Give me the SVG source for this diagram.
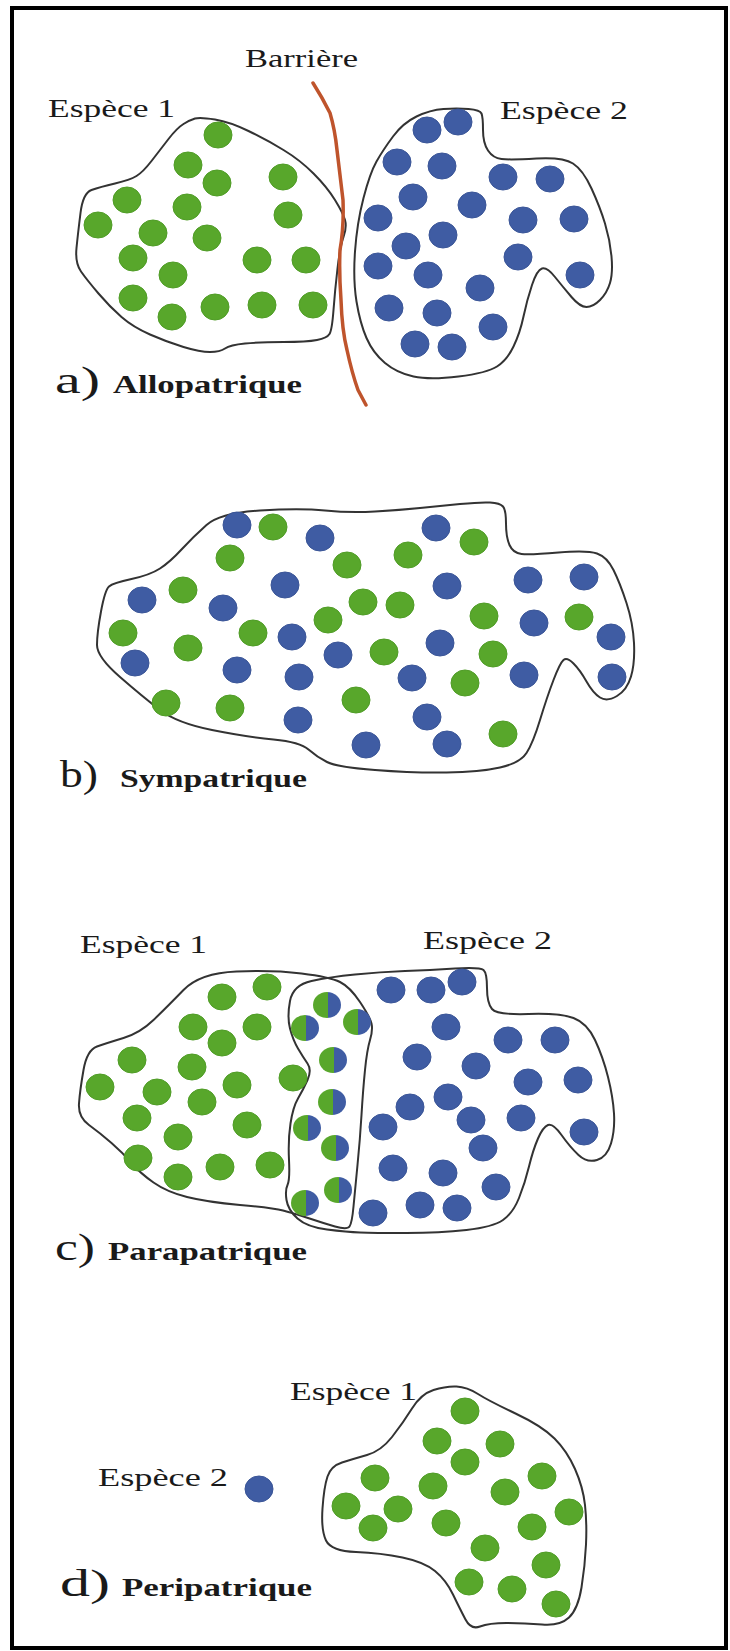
<svg xmlns="http://www.w3.org/2000/svg" xmlns:xlink="http://www.w3.org/1999/xlink" width="730" height="1651" viewBox="0 0 730 1651">
<style>
.ol{fill:none;stroke:#333;stroke-width:2;stroke-linejoin:round;stroke-linecap:round}
.bar{fill:none;stroke:#bf542c;stroke-width:3.5;stroke-linecap:round;stroke-linejoin:round}
.lbl{font-family:"Liberation Serif","Times New Roman",serif;font-size:25px;fill:#1a1a1a}
.let{font-family:"Liberation Serif","Times New Roman",serif;font-size:38px;fill:#1a1a1a}
.ttl{font-family:"Liberation Serif","Times New Roman",serif;font-size:25px;font-weight:bold;fill:#1a1a1a}
</style>
<defs>
<linearGradient id="halfg" x1="0" y1="0" x2="1" y2="0">
<stop offset="0" stop-color="#58a72b"/><stop offset="0.52" stop-color="#58a72b"/><stop offset="0.52" stop-color="#3f5ca3"/><stop offset="1" stop-color="#3f5ca3"/>
</linearGradient>
<ellipse id="g" cx="0" cy="0" rx="14" ry="13" fill="#58a72b" stroke="#4f9c26" stroke-width="1"/>
<ellipse id="b" cx="0" cy="0" rx="14" ry="13" fill="#3f5ca3" stroke="#3a5597" stroke-width="1"/>
<ellipse id="h" cx="0" cy="0" rx="14" ry="13" fill="url(#halfg)"/>
</defs>
<rect width="730" height="1651" fill="#fff"/>
<rect x="12" y="8" width="714" height="1640" fill="none" stroke="#000" stroke-width="4"/>

<g id="panel-a">
<path class="ol" d="M183.5,124 Q190,120 195,118.5 Q200,117 215,119.5 Q230,122 248.5,131 Q267,140 283.5,150 Q300,160 313.5,173.5 Q327,187 335,200 Q343,213 345,220 Q347,227 343.5,237 Q340,247 337.5,268.5 Q335,290 333.5,310 Q332,330 329.5,334 Q327,338 317,340 Q307,342 283.5,342 Q260,342 245,343.5 Q230,345 225,348.5 Q220,352 210,352 Q200,352 183.5,347 Q167,342 150,334.5 Q133,327 121.5,317 Q110,307 98.5,293.5 Q87,280 81,271.5 Q75,263 76.5,248 Q78,233 80.5,213 Q83,193 91.5,190 Q100,187 115,183.5 Q130,180 136.5,176 Q143,172 151.5,161 Q160,150 168.5,139 Q177,128 183.5,124 Z"/>
<path class="ol" d="M443.5,109 Q457,108 468.5,109 Q480,110 481.5,113.5 Q483,117 483,130 Q483,143 488,150.5 Q493,158 501.5,159 Q510,160 536.5,158.5 Q563,157 573,163.5 Q583,170 591.5,188.5 Q600,207 605,223.5 Q610,240 611.5,256.5 Q613,273 610,283 Q607,293 600,300 Q593,307 586.5,307 Q580,307 571.5,297 Q563,287 555,277 Q547,267 542,268.5 Q537,270 532,285 Q527,300 523.5,316.5 Q520,333 513.5,346.5 Q507,360 497,366.5 Q487,373 458.5,376.5 Q430,380 413.5,376.5 Q397,373 385,363 Q373,353 366.5,338 Q360,323 356.5,301.5 Q353,280 355,251.5 Q357,223 363.5,198 Q370,173 376.5,161.5 Q383,150 393,136.5 Q403,123 416.5,116.5 Q430,110 443.5,109 Z"/>
<path class="bar" d="M313,83 Q322,97 330,113 Q335,130 337,150 Q340,175 343,200 Q344,227 340,250 Q339,273 341,300 Q342,330 347,350 Q352,373 358,390 L366,405"/>
<g>
<use xlink:href="#g" x="218" y="135"/><use xlink:href="#g" x="188" y="165"/><use xlink:href="#g" x="217" y="183"/><use xlink:href="#g" x="283" y="177"/><use xlink:href="#g" x="127" y="200"/><use xlink:href="#g" x="187" y="207"/><use xlink:href="#g" x="288" y="215"/><use xlink:href="#g" x="98" y="225"/><use xlink:href="#g" x="153" y="233"/><use xlink:href="#g" x="207" y="238"/><use xlink:href="#g" x="133" y="258"/><use xlink:href="#g" x="257" y="260"/><use xlink:href="#g" x="306" y="260"/><use xlink:href="#g" x="173" y="275"/><use xlink:href="#g" x="133" y="298"/><use xlink:href="#g" x="172" y="317"/><use xlink:href="#g" x="215" y="307"/><use xlink:href="#g" x="262" y="305"/><use xlink:href="#g" x="313" y="305"/>
</g>
<g>
<use xlink:href="#b" x="427" y="130"/><use xlink:href="#b" x="458" y="122"/><use xlink:href="#b" x="397" y="162"/><use xlink:href="#b" x="442" y="166"/><use xlink:href="#b" x="503" y="177"/><use xlink:href="#b" x="550" y="179"/><use xlink:href="#b" x="413" y="197"/><use xlink:href="#b" x="472" y="205"/><use xlink:href="#b" x="378" y="218"/><use xlink:href="#b" x="523" y="220"/><use xlink:href="#b" x="574" y="219"/><use xlink:href="#b" x="443" y="235"/><use xlink:href="#b" x="406" y="246"/><use xlink:href="#b" x="518" y="257"/><use xlink:href="#b" x="378" y="266"/><use xlink:href="#b" x="428" y="275"/><use xlink:href="#b" x="580" y="275"/><use xlink:href="#b" x="480" y="288"/><use xlink:href="#b" x="389" y="308"/><use xlink:href="#b" x="437" y="313"/><use xlink:href="#b" x="493" y="327"/><use xlink:href="#b" x="415" y="344"/><use xlink:href="#b" x="452" y="347"/>
</g>
<text class="lbl" x="245" y="67" textLength="113" lengthAdjust="spacingAndGlyphs">Barrière</text>
<text class="lbl" x="48" y="117" textLength="127" lengthAdjust="spacingAndGlyphs">Espèce 1</text>
<text class="lbl" x="500" y="119" textLength="128" lengthAdjust="spacingAndGlyphs">Espèce 2</text>
<text class="let" x="55" y="393" textLength="45" lengthAdjust="spacingAndGlyphs">a)</text>
<text class="ttl" x="113" y="393" textLength="189" lengthAdjust="spacingAndGlyphs">Allopatrique</text>
</g>

<g id="panel-b">
<path class="ol" d="M206.5,525 Q220,513 260,510.5 Q300,508 325,510.5 Q350,513 375,511.5 Q400,510 420,508 Q440,506 460,504 Q480,502 490,502.5 Q500,503 503,506.5 Q506,510 506,523.5 Q506,537 509.5,545 Q513,553 521.5,554 Q530,555 558.5,552.5 Q587,550 597,553.5 Q607,557 613.5,570 Q620,583 626.5,603 Q633,623 634,643 Q635,663 631,676.5 Q627,690 617,696 Q607,702 600,697.5 Q593,693 586.5,681.5 Q580,670 573.5,663.5 Q567,657 563.5,660 Q560,663 553.5,680 Q547,697 540,720 Q533,743 526.5,753 Q520,763 500,767.5 Q480,772 446.5,772.5 Q413,773 375,770 Q337,767 327,762 Q317,757 308.5,749.5 Q300,742 273.5,739.5 Q247,737 212,730 Q177,723 160,710 Q143,697 120,677 Q97,657 97,645 Q97,633 101,611.5 Q105,590 109,586.5 Q113,583 131.5,579 Q150,575 160,568.5 Q170,562 181.5,549.5 Q193,537 206.5,525 Z"/>
<g>
<use xlink:href="#b" x="237" y="525"/><use xlink:href="#b" x="320" y="538"/><use xlink:href="#b" x="142" y="600"/><use xlink:href="#b" x="223" y="608"/><use xlink:href="#b" x="285" y="585"/><use xlink:href="#b" x="292" y="637"/><use xlink:href="#b" x="338" y="655"/><use xlink:href="#b" x="135" y="663"/><use xlink:href="#b" x="237" y="670"/><use xlink:href="#b" x="299" y="677"/><use xlink:href="#b" x="298" y="720"/><use xlink:href="#b" x="366" y="745"/><use xlink:href="#b" x="436" y="528"/><use xlink:href="#b" x="447" y="586"/><use xlink:href="#b" x="528" y="580"/><use xlink:href="#b" x="584" y="577"/><use xlink:href="#b" x="534" y="623"/><use xlink:href="#b" x="611" y="637"/><use xlink:href="#b" x="440" y="643"/><use xlink:href="#b" x="412" y="678"/><use xlink:href="#b" x="524" y="675"/><use xlink:href="#b" x="612" y="677"/><use xlink:href="#b" x="427" y="717"/><use xlink:href="#b" x="447" y="744"/>
</g>
<g>
<use xlink:href="#g" x="273" y="527"/><use xlink:href="#g" x="230" y="558"/><use xlink:href="#g" x="347" y="565"/><use xlink:href="#g" x="183" y="590"/><use xlink:href="#g" x="363" y="602"/><use xlink:href="#g" x="400" y="605"/><use xlink:href="#g" x="328" y="620"/><use xlink:href="#g" x="123" y="633"/><use xlink:href="#g" x="253" y="633"/><use xlink:href="#g" x="188" y="648"/><use xlink:href="#g" x="384" y="652"/><use xlink:href="#g" x="166" y="703"/><use xlink:href="#g" x="230" y="708"/><use xlink:href="#g" x="356" y="700"/><use xlink:href="#g" x="474" y="542"/><use xlink:href="#g" x="408" y="555"/><use xlink:href="#g" x="484" y="616"/><use xlink:href="#g" x="579" y="617"/><use xlink:href="#g" x="493" y="654"/><use xlink:href="#g" x="465" y="683"/><use xlink:href="#g" x="503" y="734"/>
</g>
<text class="let" x="60" y="787" textLength="38" lengthAdjust="spacingAndGlyphs">b)</text>
<text class="ttl" x="120" y="787" textLength="187" lengthAdjust="spacingAndGlyphs">Sympatrique</text>
</g>

<g id="panel-c">
<path class="ol" d="M183.5,990 Q200,973 236.5,971.5 Q273,970 301.5,973.5 Q330,977 340,982 Q350,987 360,1002 Q370,1017 371.5,1023.5 Q373,1030 370,1040 Q367,1050 365,1070 Q363,1090 361.5,1115 Q360,1140 357.5,1165 Q355,1190 353.5,1206.5 Q352,1223 349.5,1226.5 Q347,1230 335,1226.5 Q323,1223 308,1218 Q293,1213 283,1210.5 Q273,1208 240,1205 Q207,1202 187,1197 Q167,1192 153.5,1182.5 Q140,1173 131.5,1163 Q123,1153 111.5,1143 Q100,1133 89,1125 Q78,1117 79,1103.5 Q80,1090 83.5,1070 Q87,1050 97,1046.5 Q107,1043 123.5,1038 Q140,1033 153.5,1020 Q167,1007 183.5,990 Z"/>
<path class="ol" d="M290,1001 Q293,985 311.5,981 Q330,977 355,974.5 Q380,972 405,971 Q430,970 455,968.5 Q480,967 483.5,970 Q487,973 487,988 Q487,1003 492,1009 Q497,1015 528.5,1014 Q560,1013 573.5,1018 Q587,1023 595,1040 Q603,1057 608,1077 Q613,1097 614,1113.5 Q615,1130 611,1143.5 Q607,1157 597,1160 Q587,1163 578.5,1155 Q570,1147 561.5,1135 Q553,1123 548,1125 Q543,1127 538,1138.5 Q533,1150 529,1166.5 Q525,1183 519,1198 Q513,1213 503,1220 Q493,1227 466.5,1230 Q440,1233 406.5,1233 Q373,1233 360,1232.5 Q347,1232 327,1229.5 Q307,1227 297.5,1218.5 Q288,1210 286.5,1200 Q285,1190 287.5,1185 Q290,1180 289,1160 Q288,1140 290.5,1123.5 Q293,1107 298,1098.5 Q303,1090 307.5,1080 Q312,1070 307.5,1063.5 Q303,1057 298,1048.5 Q293,1040 290,1028.5 Q287,1017 290,1001 Z"/>
<g>
<use xlink:href="#g" x="267" y="987"/><use xlink:href="#g" x="222" y="997"/><use xlink:href="#g" x="193" y="1027"/><use xlink:href="#g" x="257" y="1027"/><use xlink:href="#g" x="222" y="1043"/><use xlink:href="#g" x="132" y="1060"/><use xlink:href="#g" x="192" y="1067"/><use xlink:href="#g" x="100" y="1087"/><use xlink:href="#g" x="157" y="1092"/><use xlink:href="#g" x="237" y="1085"/><use xlink:href="#g" x="293" y="1078"/><use xlink:href="#g" x="202" y="1102"/><use xlink:href="#g" x="137" y="1118"/><use xlink:href="#g" x="247" y="1125"/><use xlink:href="#g" x="178" y="1137"/><use xlink:href="#g" x="138" y="1158"/><use xlink:href="#g" x="220" y="1167"/><use xlink:href="#g" x="270" y="1165"/><use xlink:href="#g" x="178" y="1177"/>
</g>
<g>
<use xlink:href="#h" x="327" y="1005"/><use xlink:href="#h" x="357" y="1022"/><use xlink:href="#h" x="305" y="1028"/><use xlink:href="#h" x="333" y="1060"/><use xlink:href="#h" x="332" y="1102"/><use xlink:href="#h" x="307" y="1128"/><use xlink:href="#h" x="335" y="1148"/><use xlink:href="#h" x="338" y="1190"/><use xlink:href="#h" x="305" y="1203"/>
</g>
<g>
<use xlink:href="#b" x="391" y="990"/><use xlink:href="#b" x="431" y="990"/><use xlink:href="#b" x="462" y="982"/><use xlink:href="#b" x="446" y="1027"/><use xlink:href="#b" x="508" y="1040"/><use xlink:href="#b" x="555" y="1040"/><use xlink:href="#b" x="417" y="1057"/><use xlink:href="#b" x="476" y="1066"/><use xlink:href="#b" x="528" y="1082"/><use xlink:href="#b" x="578" y="1080"/><use xlink:href="#b" x="448" y="1097"/><use xlink:href="#b" x="410" y="1107"/><use xlink:href="#b" x="471" y="1120"/><use xlink:href="#b" x="521" y="1118"/><use xlink:href="#b" x="383" y="1127"/><use xlink:href="#b" x="584" y="1132"/><use xlink:href="#b" x="483" y="1148"/><use xlink:href="#b" x="393" y="1168"/><use xlink:href="#b" x="443" y="1173"/><use xlink:href="#b" x="496" y="1187"/><use xlink:href="#b" x="373" y="1213"/><use xlink:href="#b" x="420" y="1205"/><use xlink:href="#b" x="457" y="1208"/>
</g>
<text class="lbl" x="80" y="953" textLength="127" lengthAdjust="spacingAndGlyphs">Espèce 1</text>
<text class="lbl" x="423" y="949" textLength="129" lengthAdjust="spacingAndGlyphs">Espèce 2</text>
<text class="let" x="55" y="1260" textLength="40" lengthAdjust="spacingAndGlyphs">c)</text>
<text class="ttl" x="108" y="1260" textLength="199" lengthAdjust="spacingAndGlyphs">Parapatrique</text>
</g>

<g id="panel-d">
<path class="ol" d="M412,1408.5 Q421,1394 433.5,1390 Q446,1386 456.5,1386.5 Q467,1387 478,1394 Q489,1401 515.5,1413.5 Q542,1426 554.5,1438.5 Q567,1451 575,1469 Q583,1487 585,1505 Q587,1523 586,1544.5 Q585,1566 581.5,1587.5 Q578,1609 569,1617.5 Q560,1626 542,1624.5 Q524,1623 506.5,1623 Q489,1623 480,1626.5 Q471,1630 465.5,1619.5 Q460,1609 453,1594.5 Q446,1580 435,1571 Q424,1562 402.5,1557.5 Q381,1553 356,1552 Q331,1551 326,1540.5 Q321,1530 322.5,1508.5 Q324,1487 327.5,1476.5 Q331,1466 342,1462.5 Q353,1459 367,1455 Q381,1451 392,1437 Q403,1423 412,1408.5 Z"/>
<g>
<use xlink:href="#g" x="465" y="1411"/><use xlink:href="#g" x="437" y="1441"/><use xlink:href="#g" x="500" y="1444"/><use xlink:href="#g" x="465" y="1462"/><use xlink:href="#g" x="375" y="1478"/><use xlink:href="#g" x="433" y="1486"/><use xlink:href="#g" x="542" y="1476"/><use xlink:href="#g" x="505" y="1492"/><use xlink:href="#g" x="346" y="1506"/><use xlink:href="#g" x="398" y="1509"/><use xlink:href="#g" x="569" y="1512"/><use xlink:href="#g" x="373" y="1528"/><use xlink:href="#g" x="446" y="1523"/><use xlink:href="#g" x="532" y="1527"/><use xlink:href="#g" x="485" y="1548"/><use xlink:href="#g" x="546" y="1565"/><use xlink:href="#g" x="469" y="1582"/><use xlink:href="#g" x="512" y="1589"/><use xlink:href="#g" x="556" y="1604"/>
</g>
<use xlink:href="#b" x="259" y="1489"/>
<text class="lbl" x="290" y="1400" textLength="127" lengthAdjust="spacingAndGlyphs">Espèce 1</text>
<text class="lbl" x="98" y="1486" textLength="130" lengthAdjust="spacingAndGlyphs">Espèce 2</text>
<text class="let" x="60" y="1596" textLength="50" lengthAdjust="spacingAndGlyphs">d)</text>
<text class="ttl" x="122" y="1596" textLength="190" lengthAdjust="spacingAndGlyphs">Peripatrique</text>
</g>
</svg>
